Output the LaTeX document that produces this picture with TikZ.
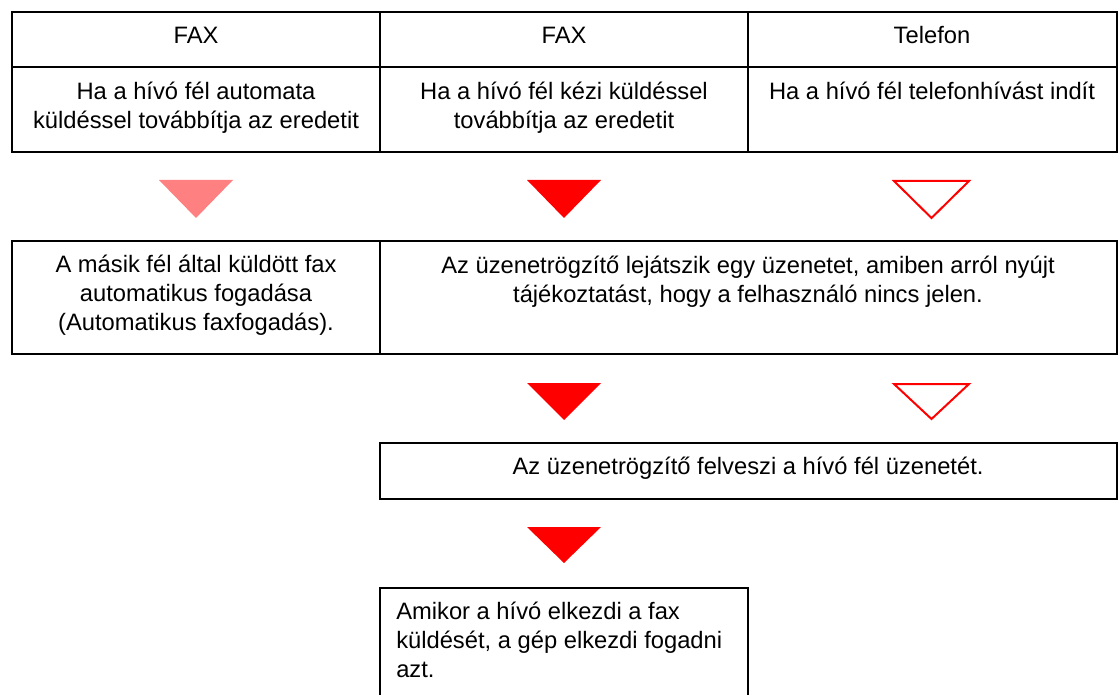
\documentclass[tikz,border=0pt]{standalone}
\usepackage{fontspec}
\setmainfont{Liberation Sans}
\usepackage{xcolor}
\usepackage{tikz}
\definecolor{faxpink}{HTML}{FF8080}
\definecolor{faxred}{HTML}{FF0000}

\begin{document}
\begin{tikzpicture}[x=0.75pt,y=-0.75pt,
  frame/.style={line width=2.2pt, line cap=rect},
  txt/.style={anchor=base, align=center, inner sep=0pt,
    font=\fontsize{17.8}{21.75}\selectfont},
  lefttxt/.style={txt, anchor=base west, align=left},
  trifull/.style={fill=faxred},
  tripale/.style={fill=faxpink},
  triopen/.style={draw=faxred, line width=1.5pt, line join=miter}]
\useasboundingbox (0,0) rectangle (1120,695);

% Header table (multi-line nodes sit on their last baseline)
\draw[frame] (12,12) rectangle (1117,152);
\draw[frame] (12,67) -- (1117,67);
\draw[frame] (380,12) -- (380,152);
\draw[frame] (748,12) -- (748,152);
\node[txt] (fax1) at (196,44) {FAX};
\node[txt] (fax2) at (564,44) {FAX};
\node[txt] (tel) at (932,44) {Telefon};
\node[txt] (auto) at (196,129) {Ha a hívó fél automata\\küldéssel továbbítja az eredetit};
\node[txt] (kezi) at (564,129) {Ha a hívó fél kézi küldéssel\\továbbítja az eredetit};
\node[txt] (hivas) at (932,100) {Ha a hívó fél telefonhívást indít};

% First row of triangles
\fill[tripale] (159,180) -- (233,180) -- (196,218) -- cycle;
\fill[trifull] (527,180) -- (601,180) -- (564,218) -- cycle;
\draw[triopen] (894,181) -- (969,181) -- (931.5,218) -- cycle;

% Second row of boxes
\draw[frame] (12,241) rectangle (1117,354);
\draw[frame] (380,241) -- (380,354);
\node[txt] (fogad) at (196,330) {A másik fél által küldött fax\\automatikus fogadása\\(Automatikus faxfogadás).};
\node[txt] (uzenet) at (748,302) {Az üzenetrögzítő lejátszik egy üzenetet, amiben arról nyújt\\tájékoztatást, hogy a felhasználó nincs jelen.};

% Second row of triangles
\fill[trifull] (527,383) -- (601,383) -- (564,420) -- cycle;
\draw[triopen] (894,384) -- (969,384) -- (931.5,419) -- cycle;

% Answering machine box
\draw[frame] (380,443) rectangle (1117,499);
\node[txt] (felvesz) at (748,474) {Az üzenetrögzítő felveszi a hívó fél üzenetét.};

% Third triangle
\fill[trifull] (527,527) -- (601,527) -- (564,563) -- cycle;

% Last box, cut at the bottom
\draw[frame] (380,697) -- (380,588) -- (748,588) -- (748,697);
\node[lefttxt] (kuld) at (396,677) {Amikor a hívó elkezdi a fax\\küldését, a gép elkezdi fogadni\\azt.};
\end{tikzpicture}
\end{document}
